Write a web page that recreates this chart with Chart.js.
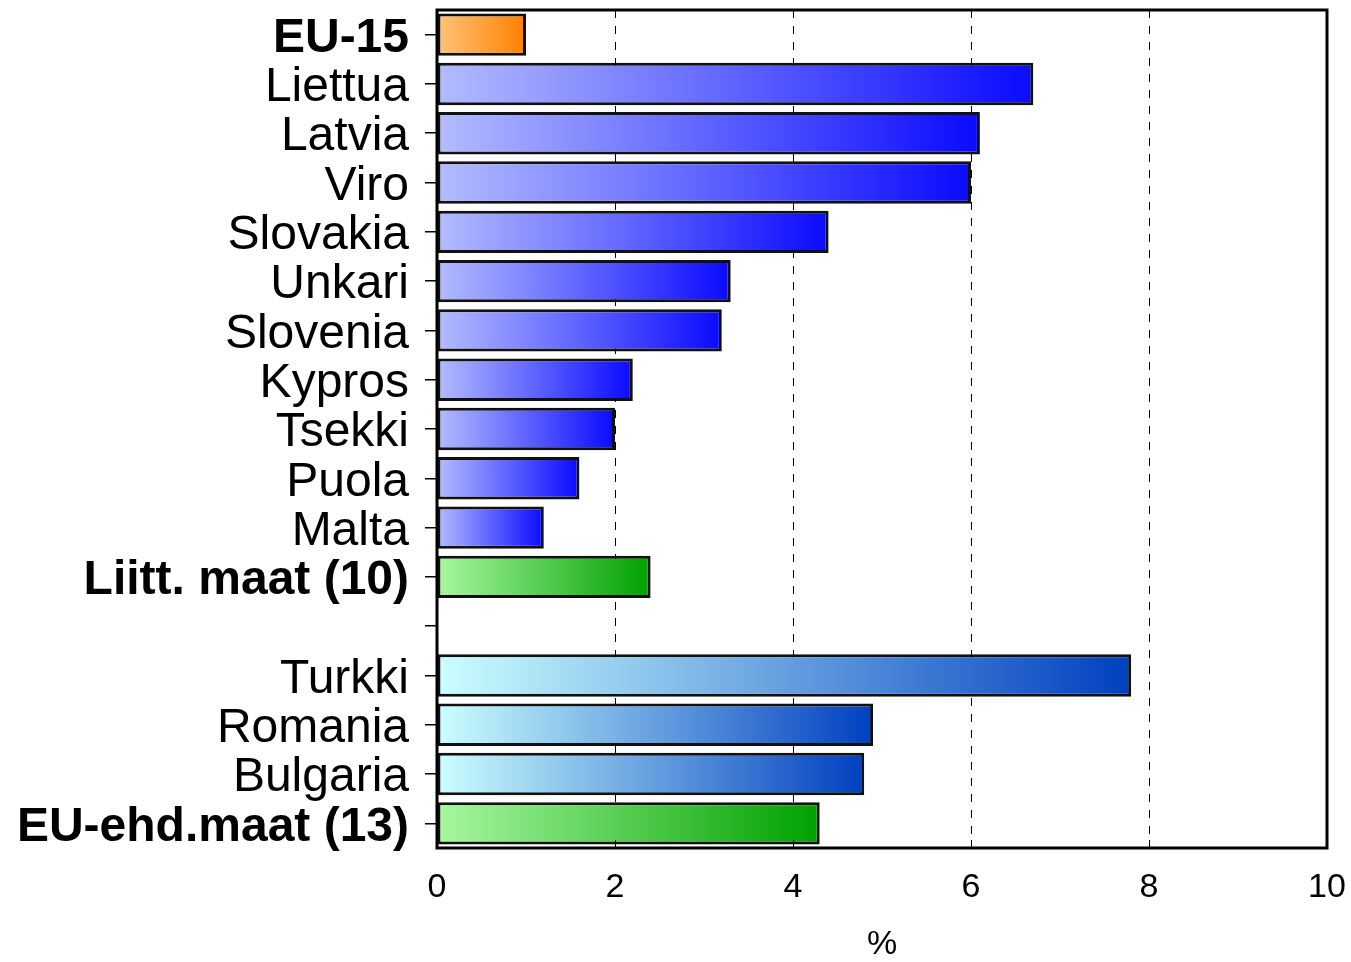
<!DOCTYPE html>
<html>
<head>
<meta charset="utf-8">
<script src="https://cdn.jsdelivr.net/npm/chart.js@4.4.0/dist/chart.umd.min.js"></script>
<style>
  html, body { margin: 0; padding: 0; background: #fff; }
  #wrap { width: 1351px; height: 962px; }
</style>
</head>
<body>
<div id="wrap"><canvas id="barChart" width="1351" height="962"></canvas></div>
<script>
const countries = ['EU-15', 'Liettua', 'Latvia', 'Viro', 'Slovakia', 'Unkari', 'Slovenia', 'Kypros',
    'Tsekki', 'Puola', 'Malta', 'Liitt. maat (10)', '', 'Turkki', 'Romania', 'Bulgaria', 'EU-ehd.maat (13)'];
const growth = [1.0, 6.7, 6.1, 6.0, 4.4, 3.3, 3.2, 2.2, 2.0, 1.6, 1.2, 2.4, null, 7.8, 4.9, 4.8, 4.3];
const groups = ['eu', 'acc', 'acc', 'acc', 'acc', 'acc', 'acc', 'acc', 'acc', 'acc', 'acc', 'avg', 'gap',
    'cand', 'cand', 'cand', 'avg'];
const boldLabels = ['EU-15', 'Liitt. maat (10)', 'EU-ehd.maat (13)'];
const xTicks = [0, 2, 4, 6, 8, 10];

const gradientColors = {
    eu:   ['#ffc47a', '#ff8000'],
    acc:  ['#b4bcff', '#0a0aff'],
    avg:  ['#a8f8a0', '#00a000'],
    cand: ['#ccffff', '#0040c0'],
    gap:  ['#ffffff', '#ffffff']
};

function barGradient(context) {
    const chart = context.chart;
    if (!chart.chartArea || context.raw == null) return 'rgba(0,0,0,0)';
    const xScale = chart.scales.x;
    const x0 = xScale.getPixelForValue(0);
    const x1 = xScale.getPixelForValue(context.raw);
    const colors = gradientColors[groups[context.dataIndex]];
    const g = chart.ctx.createLinearGradient(x0, 0, Math.max(x1, x0 + 1), 0);
    g.addColorStop(0, colors[0]);
    g.addColorStop(1, colors[1]);
    return g;
}

// frame around plot and inward ticks on the x axis
const framePlugin = {
    id: 'frame',
    afterDraw(chart) {
        const { ctx, chartArea } = chart;
        const xScale = chart.scales.x;
        ctx.save();
        ctx.strokeStyle = '#000';
        ctx.lineWidth = 1;
        xTicks.slice(1, -1).forEach(v => {
            const px = Math.round(xScale.getPixelForValue(v)) + 0.5;
            ctx.beginPath();
            ctx.moveTo(px, chartArea.bottom);
            ctx.lineTo(px, chartArea.bottom - 8);
            ctx.stroke();
        });
        ctx.lineWidth = 3;
        ctx.strokeRect(chartArea.left, chartArea.top, chartArea.right - chartArea.left, chartArea.bottom - chartArea.top);
        ctx.restore();
    }
};

const ctx = document.getElementById('barChart').getContext('2d');
new Chart(ctx, {
    type: 'bar',
    data: {
        labels: countries,
        datasets: [{
            data: growth,
            backgroundColor: barGradient,
            borderColor: '#111',
            borderWidth: 3,
            borderSkipped: false,
            barPercentage: 0.86,
            categoryPercentage: 1.0
        }]
    },
    options: {
        indexAxis: 'y',
        responsive: false,
        animation: false,
        layout: { padding: { top: 10, right: 24, left: 0, bottom: 0 } },
        plugins: {
            legend: { display: false },
            tooltip: { enabled: false }
        },
        scales: {
            x: {
                min: 0,
                max: 10,
                afterBuildTicks: scale => { scale.ticks = xTicks.map(v => ({ value: v })); },
                afterFit: scale => {
                    scale.height = 114;
                    scale.paddingLeft = 0;
                    scale.paddingRight = 0;
                },
                border: { display: false, dash: [8, 8] },
                grid: {
                    drawTicks: false,
                    color: ctx => (ctx.tick && ctx.tick.value > 0 && ctx.tick.value < 10) ? '#000' : 'rgba(0,0,0,0)',
                    lineWidth: 1
                },
                ticks: {
                    color: '#000',
                    padding: 19,
                    font: { family: 'Liberation Sans, Arial, sans-serif', size: 34 }
                },
                title: {
                    display: true,
                    text: '%',
                    color: '#000',
                    padding: { top: 0, bottom: 0 },
                    font: { family: 'Liberation Sans, Arial, sans-serif', size: 34, lineHeight: 1 }
                }
            },
            y: {
                afterFit: scale => {
                    scale.width = 437;
                    scale.paddingTop = 0;
                    scale.paddingBottom = 0;
                },
                border: { display: false },
                grid: {
                    offset: false,
                    drawOnChartArea: false,
                    drawTicks: true,
                    tickLength: 12,
                    color: '#000',
                    lineWidth: 1.5
                },
                ticks: {
                    color: '#000',
                    padding: 16,
                    labelOffset: 4,
                    autoSkip: false,
                    font: ctx => ({
                        family: 'Liberation Sans, Arial, sans-serif',
                        size: 48,
                        weight: boldLabels.includes(countries[ctx.index]) ? 'bold' : 'normal'
                    })
                }
            }
        }
    },
    plugins: [framePlugin]
});
</script>
</body>
</html>
